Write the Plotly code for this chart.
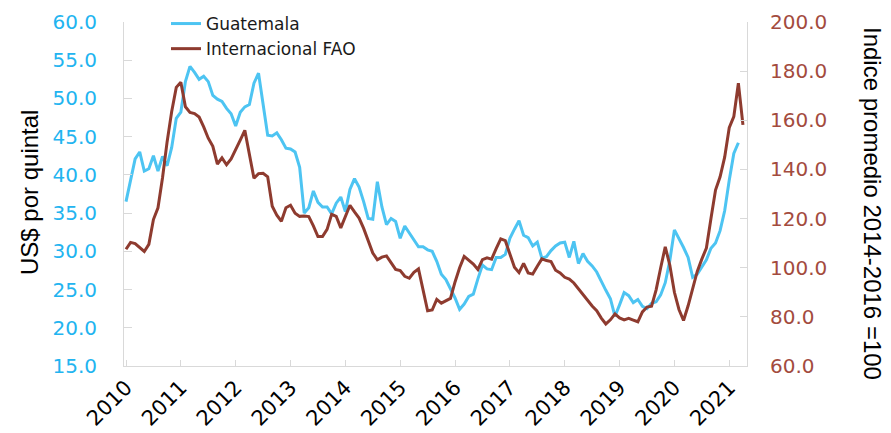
import plotly.graph_objects as go

years = ["2010", "2011", "2012", "2013", "2014", "2015", "2016",
         "2017", "2018", "2019", "2020", "2021"]

# Monthly values, Jan 2010 onward (US$ por quintal)
guatemala = [
    36.5, 39.5, 42.1, 43.0, 40.5, 40.8, 42.5, 40.5, 42.4, 41.2, 43.6, 47.4,   # 2010
    48.2, 52.2, 54.2, 53.4, 52.5, 52.9, 52.2, 50.4, 49.9, 49.6, 48.7, 48.0,   # 2011
    46.4, 48.2, 48.9, 49.2, 52.0, 53.3, 49.5, 45.2, 45.1, 45.5, 44.6, 43.5,   # 2012
    43.4, 43.0, 41.0, 35.0, 35.7, 37.9, 36.4, 35.8, 35.8, 34.9, 36.3, 37.1,   # 2013
    35.2, 38.1, 39.5, 38.4, 36.5, 34.3, 34.2, 39.1, 35.8, 33.5, 34.3, 33.9,   # 2014
    31.7, 33.3, 32.4, 31.5, 30.6, 30.6, 30.2, 30.0, 28.7, 27.0, 26.3, 25.1,   # 2015
    23.9, 22.4, 23.1, 24.1, 24.4, 26.4, 28.2, 27.7, 27.6, 29.2, 29.2, 29.6,   # 2016
    31.7, 32.9, 34.0, 32.1, 31.8, 30.7, 31.2, 29.1, 29.3, 30.1, 30.7, 31.1,   # 2017
    31.2, 29.2, 31.3, 28.4, 29.7, 28.7, 28.1, 27.3, 26.0, 24.9, 23.8, 21.5,   # 2018
    23.0, 24.6, 24.2, 23.3, 23.7, 22.8, 22.5, 23.2, 23.4, 24.3, 25.9, 28.8,   # 2019
    32.8, 31.7, 30.5, 29.2, 26.6, 27.0, 28.0, 28.9, 30.4, 31.1, 32.7, 35.3,   # 2020
    39.3, 42.8, 44.2,                                                         # 2021
]

# Monthly values, Jan 2010 onward (indice promedio 2014-2016 = 100)
fao = [
    107.5, 110.3, 109.8, 108.1, 106.6, 109.5, 119.6, 124.4, 136.7, 151.3, 163.6, 173.4,  # 2010
    175.5, 165.5, 163.2, 162.7, 161.3, 157.3, 152.7, 149.4, 142.2, 144.7, 141.9, 144.3,  # 2011
    147.9, 151.9, 155.9, 146.7, 136.4, 138.3, 138.4, 137.0, 125.0, 121.4, 118.9, 124.4,  # 2012
    125.4, 122.2, 120.9, 121.0, 120.8, 117.0, 112.7, 112.7, 115.6, 121.7, 120.9, 116.2,  # 2013
    120.8, 125.4, 122.7, 120.2, 116.0, 111.0, 106.0, 103.2, 104.3, 104.8, 102.2, 99.3,   # 2014
    98.8, 96.5, 95.7, 98.1, 99.5, 91.5, 82.5, 82.8, 87.1, 85.6, 86.4, 87.5,              # 2015
    94.2, 100.0, 104.6, 103.0, 101.5, 99.3, 103.3, 104.0, 103.5, 107.8, 111.7, 111.0,    # 2016
    105.1, 100.2, 98.0, 101.8, 97.9, 97.4, 100.6, 103.6, 102.9, 102.5, 99.0, 97.9,       # 2017
    96.1, 95.4, 93.8, 91.5, 89.1, 86.6, 84.4, 82.5, 79.5, 77.1, 78.8, 81.2,              # 2018
    79.6, 78.8, 79.4, 78.7, 78.0, 82.0, 84.0, 84.3, 91.0, 100.0, 108.5, 101.0,           # 2019
    90.0, 83.0, 78.5, 84.5, 92.0, 98.5, 103.5, 108.0, 120.0, 131.6, 137.0, 145.0,        # 2020
    157.0, 161.5, 175.1, 158.1,                                                          # 2021
]

start_year = int(years[0])
x_gt = [start_year + i / 12 for i in range(len(guatemala))]
x_fao = [start_year + i / 12 for i in range(len(fao))]
tick_years = [int(y) for y in years]

CYAN = "#4DC4F2"
CYAN_TXT = "#22B4F0"
BROWN = "#8E3B2F"
BROWN_TXT = "#A34B3E"
AXIS = "#D9D9D9"

fig = go.Figure()
fig.add_trace(go.Scatter(x=x_gt, y=guatemala, name="Guatemala", mode="lines",
                         line=dict(color=CYAN, width=3)))
fig.add_trace(go.Scatter(x=x_fao, y=fao, name="Internacional FAO", mode="lines",
                         line=dict(color=BROWN, width=3), yaxis="y2"))

# page offset of the plot div (default body margin)
OFF = 8
W, H = 891 - OFF, 433 - OFF
L, R, T, B = 124 - OFF, 144, 22 - OFF, 67
pw, ph = W - L - R, H - T - B
px_per_year = 54.84
xmin = start_year - 2 / px_per_year
xmax = xmin + pw / px_per_year


def px(xpage):
    return (xpage - OFF - L) / pw


def py(ypage):
    return (H - B - (ypage - OFF)) / ph


fig.update_layout(
    width=W, height=H,
    margin=dict(l=L, r=R, t=T, b=B, pad=0, autoexpand=False),
    paper_bgcolor="white", plot_bgcolor="white",
    showlegend=True,
    legend=dict(x=px(166), y=py(6), xanchor="left", yanchor="top",
                bgcolor="rgba(0,0,0,0)", itemwidth=30, tracegroupgap=0,
                font=dict(family="DejaVu Sans", size=17, color="#1a1a1a")),
    xaxis=dict(range=[xmin, xmax], tickmode="array", tickvals=tick_years,
               ticktext=years, tickangle=-45, showgrid=False, zeroline=False,
               showline=True, linecolor=AXIS, linewidth=1, automargin=False,
               ticks="inside", ticklen=6, tickcolor=AXIS,
               tickfont=dict(family="DejaVu Sans", size=21, color="#000000")),
    yaxis=dict(range=[15, 60], dtick=5, tick0=15, tickformat=".1f", automargin=False,
               showgrid=False, zeroline=False, showline=True, linecolor=AXIS,
               linewidth=1, ticks="inside", ticklen=8, tickcolor=AXIS,
               ticklabelstandoff=22,
               tickfont=dict(family="DejaVu Sans", size=20, color=CYAN_TXT)),
    yaxis2=dict(range=[60, 200], dtick=20, tick0=60, tickformat=".1f", automargin=False,
                overlaying="y", side="right", showgrid=False, zeroline=False,
                showline=True, linecolor=AXIS, linewidth=1, ticks="inside",
                ticklen=7, tickcolor=AXIS, ticklabelstandoff=18,
                tickfont=dict(family="DejaVu Sans", size=20, color=BROWN_TXT)),
    annotations=[
        dict(text="US$ por quintal", xref="paper", yref="paper",
             x=px(29), y=py(193), xanchor="center", yanchor="middle",
             textangle=-90, showarrow=False,
             font=dict(family="Liberation Sans", size=24, color="#000000")),
        dict(text="Indice promedio 2014-2016 =100", xref="paper", yref="paper",
             x=px(873), y=py(203), xanchor="center", yanchor="middle",
             textangle=90, showarrow=False,
             font=dict(family="Liberation Sans", size=24, color="#000000")),
    ],
)

fig.write_html("out.html")
